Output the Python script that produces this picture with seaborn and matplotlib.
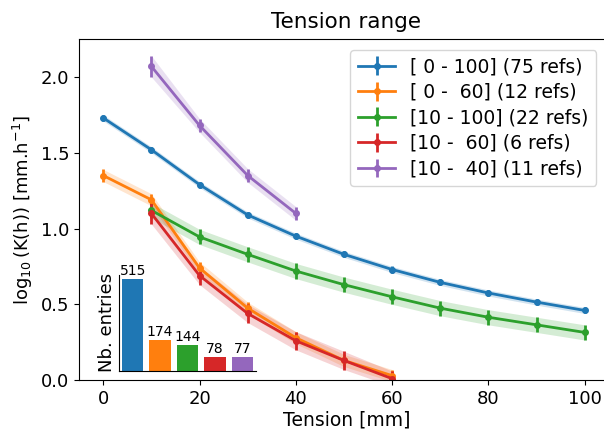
import numpy as np
import pandas as pd
import matplotlib
matplotlib.use("Agg")
import matplotlib.pyplot as plt
import seaborn as sns

# series: tension points, log10(K) mean, uncertainty
labels = ["[ 0 - 100] (75 refs)", "[ 0 -  60] (12 refs)", "[10 - 100] (22 refs)",
          "[10 -  60] (6 refs)", "[10 -  40] (11 refs)"]
x_0_100 = [0, 10, 20, 30, 40, 50, 60, 70, 80, 90, 100]
y_0_100 = [1.73, 1.52, 1.29, 1.09, 0.95, 0.83, 0.73, 0.645, 0.575, 0.515, 0.46]
e_0_100 = [0.02, 0.02, 0.02, 0.02, 0.02, 0.02, 0.02, 0.02, 0.02, 0.02, 0.02]
x_0_60 = [0, 10, 20, 30, 40, 50, 60]
y_0_60 = [1.35, 1.19, 0.74, 0.475, 0.28, 0.13, 0.03]
e_0_60 = [0.04, 0.04, 0.04, 0.04, 0.04, 0.04, 0.04]
x_10_100 = [10, 20, 30, 40, 50, 60, 70, 80, 90, 100]
y_10_100 = [1.12, 0.945, 0.83, 0.72, 0.63, 0.55, 0.475, 0.415, 0.365, 0.315]
e_10_100 = [0.05, 0.05, 0.05, 0.05, 0.05, 0.05, 0.05, 0.05, 0.05, 0.05]
x_10_60 = [10, 20, 30, 40, 50, 60]
y_10_60 = [1.10, 0.69, 0.44, 0.26, 0.13, 0.01]
e_10_60 = [0.07, 0.06, 0.06, 0.06, 0.06, 0.05]
x_10_40 = [10, 20, 30, 40]
y_10_40 = [2.07, 1.68, 1.35, 1.10]
e_10_40 = [0.07, 0.045, 0.045, 0.045]

entries = [515, 174, 144, 78, 77]

series = [(x_0_100, y_0_100, e_0_100), (x_0_60, y_0_60, e_0_60),
          (x_10_100, y_10_100, e_10_100), (x_10_60, y_10_60, e_10_60),
          (x_10_40, y_10_40, e_10_40)]
colors = sns.color_palette("tab10", 5)

fig = plt.figure(figsize=(6.04, 4.34), dpi=100)
ax = fig.add_axes([0.131, 0.124, 0.885, 0.786])

for (x, y, e), c, lab in zip(series, colors, labels):
    x = np.array(x); y = np.array(y); e = np.array(e)
    ax.fill_between(x, y - e, y + e, color=c, alpha=0.2, lw=0)
    ax.errorbar(x, y, yerr=e, color=c, marker="o", ms=4, lw=2, elinewidth=2, label=lab)

ax.set_xlim(-5, 106)
ax.set_ylim(0, 2.25)
ax.set_xticks([0, 20, 40, 60, 80, 100])
ax.set_yticks([0, 0.5, 1.0, 1.5, 2.0])
ax.tick_params(labelsize=13)
ax.spines["right"].set_visible(False)  # reference is cropped at the right edge
ax.set_xlabel("Tension [mm]", fontsize=13.5, labelpad=2)
ax.set_ylabel(r"$\log_{10}$(K(h)) [mm.h$^{-1}$]", fontsize=13, labelpad=4)
ax.set_title("Tension range", fontsize=15.5, pad=8)
ax.legend(loc="upper right", bbox_to_anchor=(0.978, 0.985), fontsize=13.5,
          handlelength=2, labelspacing=0.35, borderaxespad=0.3)

# inset with number of entries
ins = fig.add_axes([0.197, 0.145, 0.227, 0.222])
df = pd.DataFrame({"range": labels, "n": entries})
sns.barplot(data=df, x="range", y="n", hue="range", palette=colors, legend=False,
            ax=ins, width=0.78, saturation=1)
for i, n in enumerate(entries):
    ins.text(i, n + 6, str(n), ha="center", va="bottom", fontsize=10)
ins.set_xticks([]); ins.set_yticks([])
ins.set_xlabel("")
ins.set_ylabel("Nb. entries", fontsize=13, labelpad=2)
ins.set_ylim(0, 541)
ins.patch.set_alpha(0)
for s in ["top", "right"]:
    ins.spines[s].set_visible(False)

fig.savefig("out.png", dpi=100)
